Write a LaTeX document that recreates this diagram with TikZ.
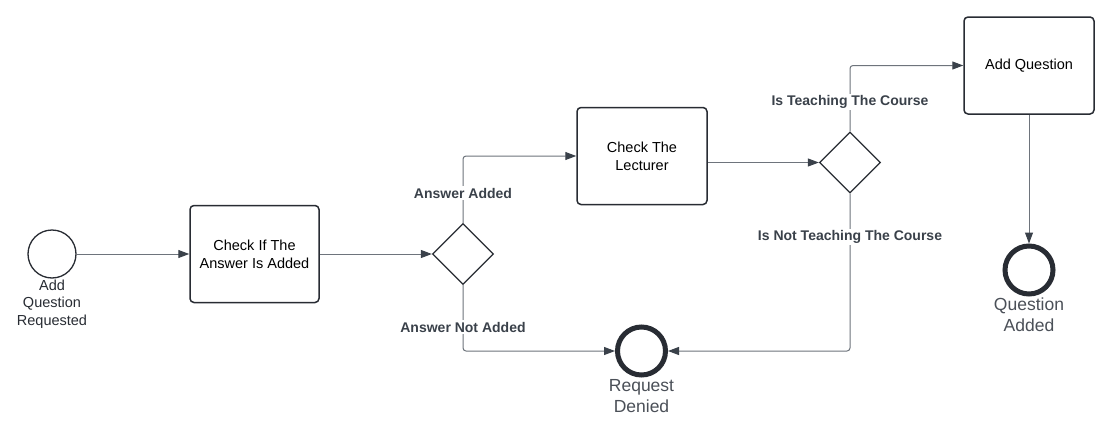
\documentclass[tikz,border=0pt]{standalone}
\usepackage{fontspec}
\setmainfont{Liberation Sans}
\usetikzlibrary{arrows.meta,shapes.geometric}
\definecolor{edge}{HTML}{6E747C}
\definecolor{tip}{HTML}{3A414A}
\definecolor{ink}{HTML}{282C33}
\definecolor{lbl}{HTML}{3A414A}
\definecolor{evt}{HTML}{4B5058}
\begin{document}
\begin{tikzpicture}[x=1pt,y=-1pt,
 task/.style={draw=ink,line width=1.5pt,rounded corners=4pt,minimum width=129pt,minimum height=97pt,inner sep=0pt,align=center,font=\fontsize{14.5}{18}\selectfont},
 gate/.style={draw=ink,line width=1.3pt,diamond,minimum width=61pt,minimum height=61pt,inner sep=0pt},
 startev/.style={draw=ink,line width=1.3pt,circle,minimum size=48pt,inner sep=0pt},
 endev/.style={draw=ink,line width=5pt,circle,minimum size=48pt,inner sep=0pt},
 flow/.style={draw=edge,line width=1pt,-{Triangle[length=11pt,width=8pt,color=tip]},rounded corners=3pt},
 cond/.style={fill=white,font=\bfseries\fontsize{14}{16}\selectfont,text=lbl,inner sep=1.5pt},
 startlbl/.style={align=center,font=\fontsize{14.5}{17.5}\selectfont,text=ink},
 endlbl/.style={align=center,font=\fontsize{17.5}{21}\selectfont,text=evt}
]
\useasboundingbox[fill=white] (0,0) rectangle (1111,431);

\node[startev] (start) at (52,254) {};
\node[startlbl] (startl) at (52,304) {Add\\Question\\Requested};
\node[task] (t1) at (254.5,254) {Check If The\\Answer Is Added};
\node[gate] (g1) at (463,254) {};
\node[task, minimum width=130pt] (t2) at (642,156) {Check The\\Lecturer};
\node[gate] (g2) at (850,162.5) {};
\node[task, minimum width=130pt] (t3) at (1029,65.5) {Add Question};
\node[endev] (e1) at (641.5,351) {};
\node[endlbl] (e1l) at (641.5,396) {Request\\Denied};
\node[endev] (e2) at (1029,270) {};
\node[endlbl] (e2l) at (1029,315) {Question\\Added};

\draw[flow] (start) -- (t1);
\draw[flow] (t1) -- (g1);
\draw[flow] (g1.north) |- (t2.west);
\draw[flow] (g1.south) |- (e1.west);
\draw[flow] (t2.east |- g2.west) -- (g2.west);
\draw[flow] (g2.north) |- (t3.west);
\draw[flow] (g2.south) |- (e1.east);
\draw[flow] (t3.south) -- (e2.north);

\node[cond] (c1) at (463,193) {Answer Added};
\node[cond] (c2) at (463,327) {Answer Not Added};
\node[cond] (c3) at (850,102) {Is Teaching The Course};
\node[cond] (c4) at (850,237) {Is Not Teaching The Course};
\end{tikzpicture}
\end{document}
